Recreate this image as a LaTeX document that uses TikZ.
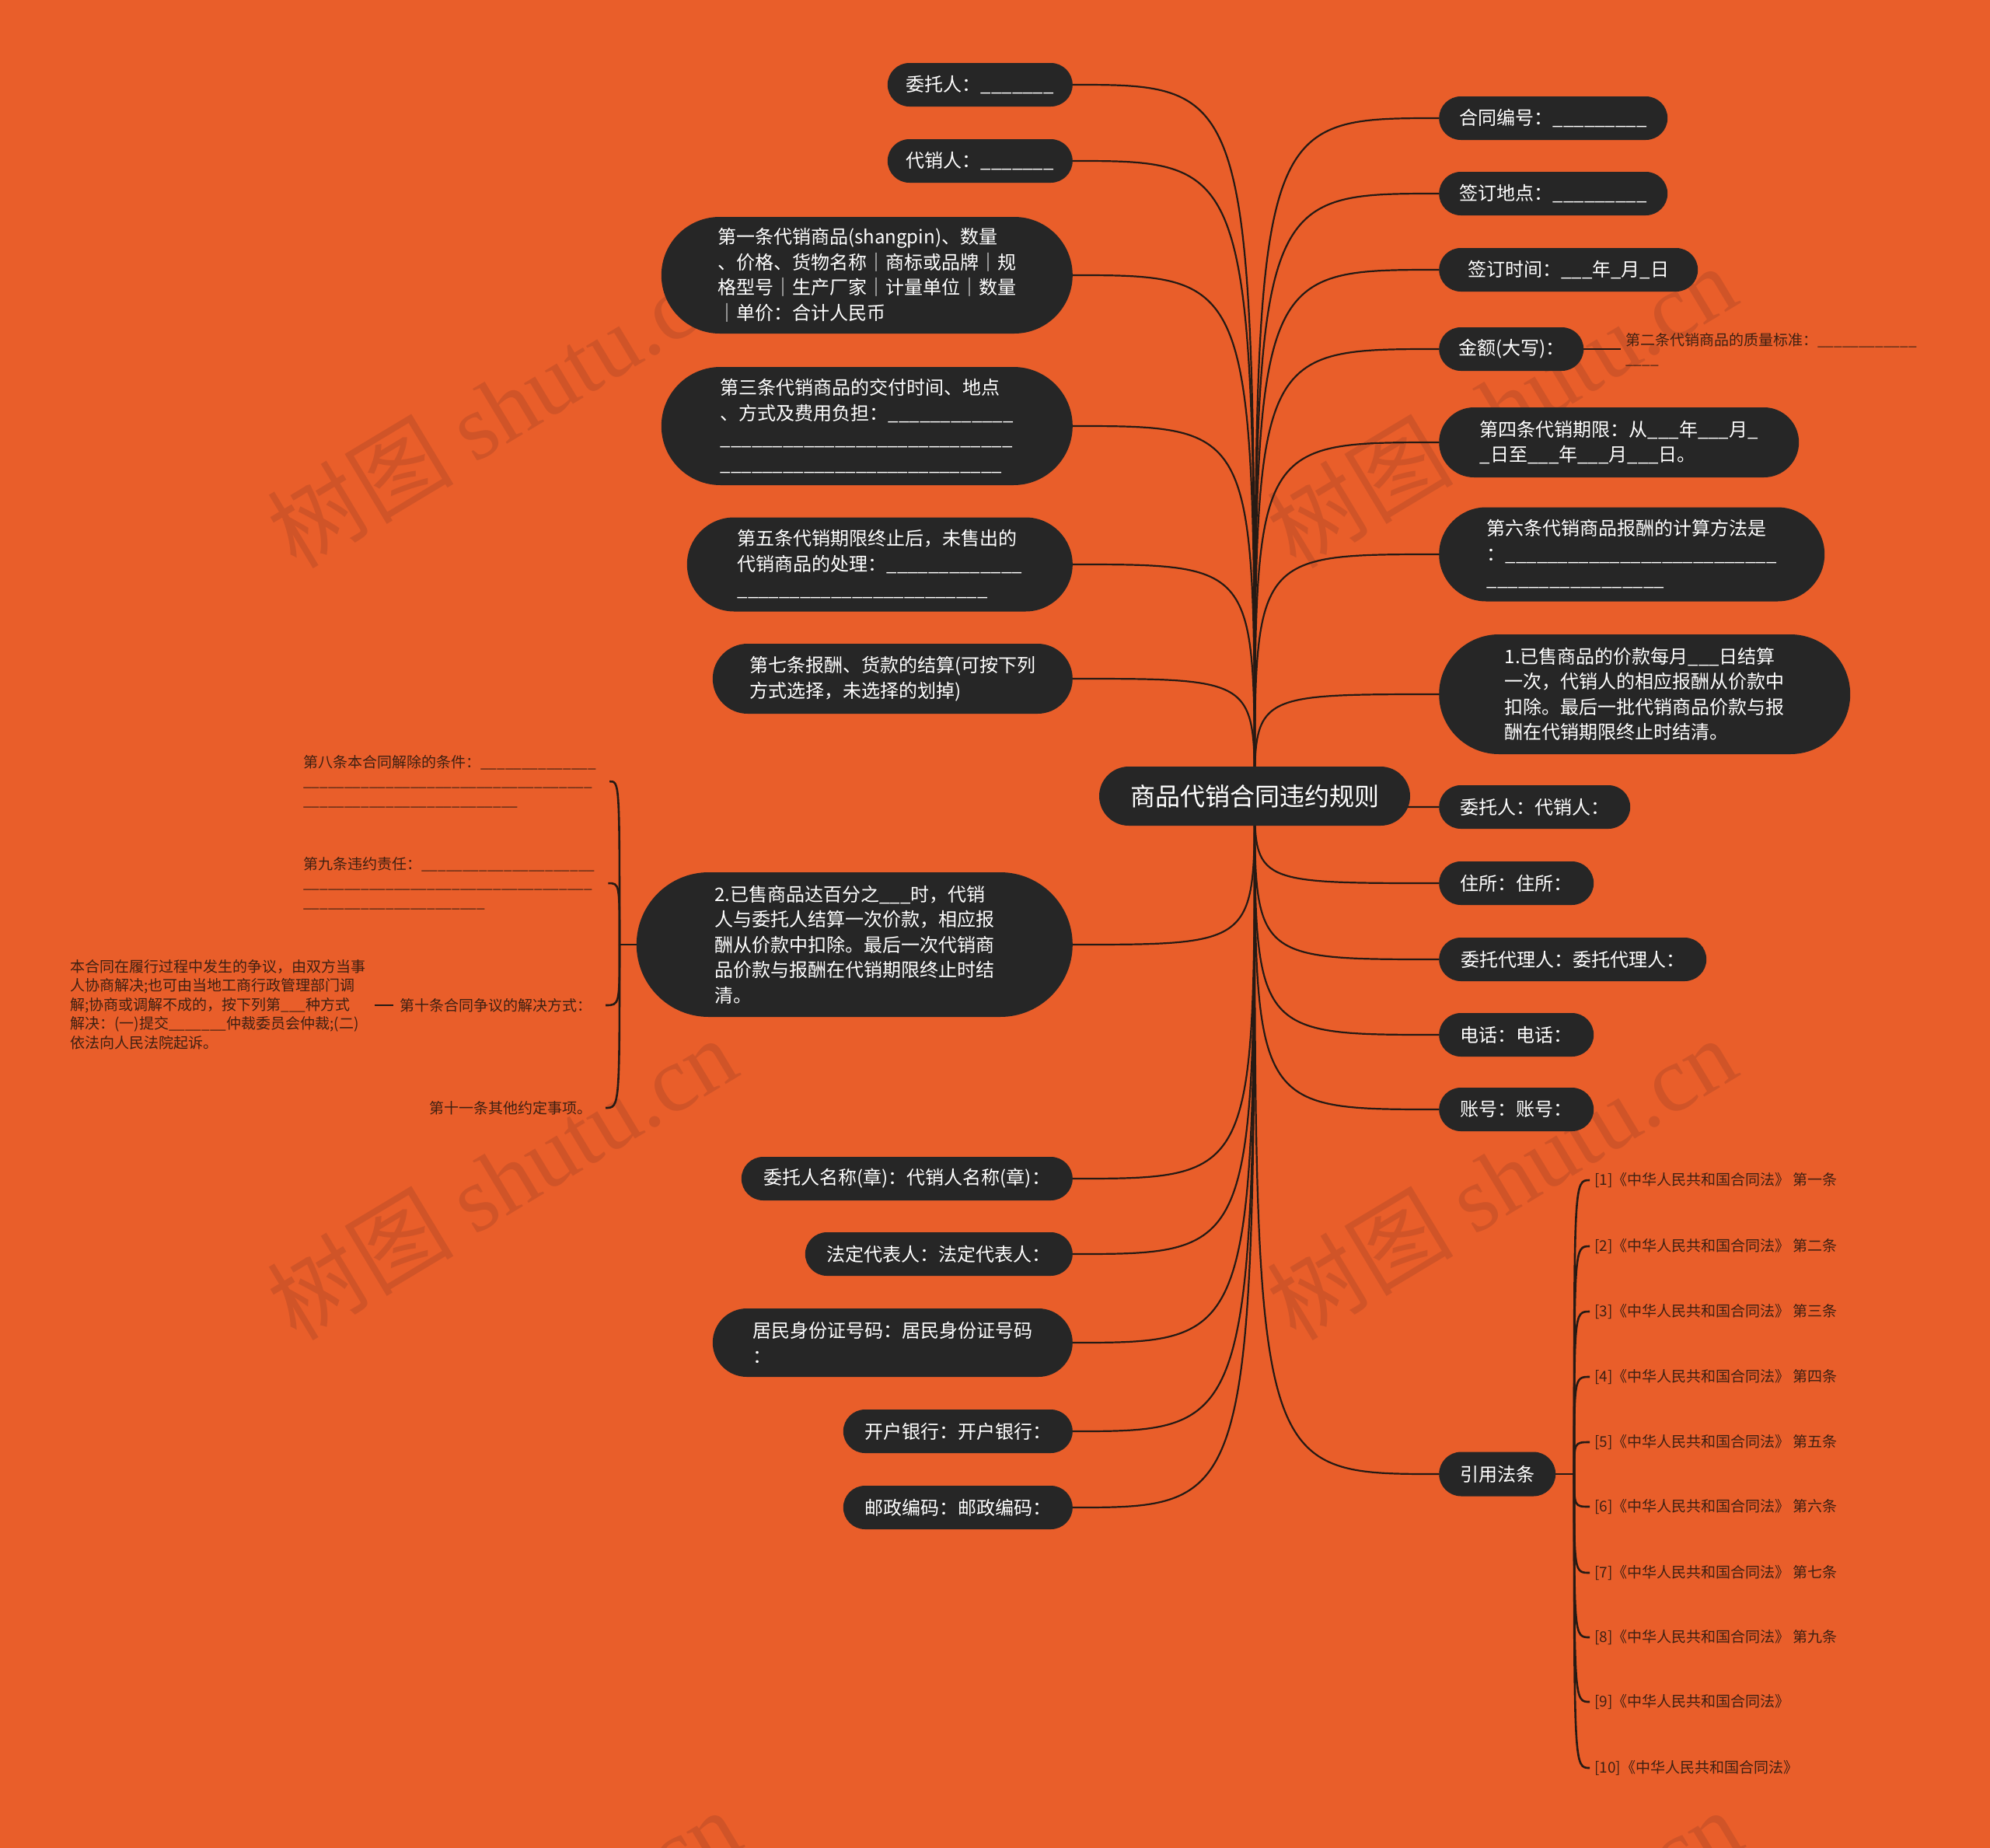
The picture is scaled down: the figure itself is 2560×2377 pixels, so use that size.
\documentclass[tikz,border=0pt]{standalone}
\usepackage{fontspec}
\setmainfont{Noto Sans CJK SC}
\newfontfamily\wmserif{Liberation Serif}
\usetikzlibrary{shapes.misc,calc}
\definecolor{bgc}{RGB}{233,94,42}
\definecolor{nodec}{RGB}{38,38,38}
\definecolor{linec}{RGB}{38,26,20}
\definecolor{smallc}{RGB}{62,32,18}
\definecolor{wmc}{RGB}{208,84,40}
\pgfdeclarelayer{back}
\pgfdeclarelayer{edges}
\pgfsetlayers{back,edges,main}
\newcount\blcnt
\newcommand\bl[1]{\blcnt=#1\relax\loop\ifnum\blcnt>0 \_\advance\blcnt by -1 \repeat}
\begin{document}
\begin{tikzpicture}[x=1pt,y=-1pt,
  topic/.style={rounded rectangle, fill=nodec, text=white, font=\fontsize{24}{32.5}\selectfont, align=left, inner xsep=2pt, inner ysep=0pt, minimum height=56pt},
  small/.style={text=smallc, font=\fontsize{19}{24.5}\selectfont, align=left, inner sep=0pt},
  conn/.style={draw=linec, line width=2.2pt},
  bracelink/.style={draw=linec, line width=2.6pt},
  wm/.style={text=wmc, rotate=31, font=\fontsize{120}{120}\selectfont, inner sep=0pt}
]
\useasboundingbox (0,0) rectangle (2560,2377);
\begin{pgfonlayer}{back}
\fill[bgc] (0,0) rectangle (2560,2377);
\begin{scope}
\clip (0,0) rectangle (2560,2377);
\node[wm] (w1) at (645,522) {树图 {\wmserif shutu.cn}};
\node[wm] (w2) at (1931,522) {树图 {\wmserif shutu.cn}};
\node[wm] (w3) at (645,1515) {树图 {\wmserif shutu.cn}};
\node[wm] (w4) at (1931,1515) {树图 {\wmserif shutu.cn}};
\node[wm] (w5) at (650,2508) {树图 {\wmserif shutu.cn}};
\node[wm] (w6) at (1938,2508) {树图 {\wmserif shutu.cn}};
\end{scope}
\end{pgfonlayer}

% central
\node[rounded rectangle, fill=nodec, text=white, font=\fontsize{32}{40}\selectfont, minimum width=400pt, minimum height=76pt, inner sep=0pt] (C) at (1614,1024) {商品代销合同违约规则};

% left topics
\node[topic, anchor=east, minimum width=242pt] (L1) at (1380,109) {委托人：\bl{7}};
\node[topic, anchor=east, minimum width=242pt] (L2) at (1380,207) {代销人：\bl{7}};
\node[topic, anchor=east, minimum width=533pt, minimum height=150pt] (L3) at (1380,354) {第一条代销商品(shangpin)、数量\\、价格、货物名称｜商标或品牌｜规\\格型号｜生产厂家｜计量单位｜数量\\｜单价：合计人民币};
\node[topic, anchor=east, minimum width=533pt, minimum height=152pt] (L4) at (1380,548) {第三条代销商品的交付时间、地点\\、方式及费用负担：\bl{12}\\\bl{28}\\\bl{27}};
\node[topic, anchor=east, minimum width=500pt, minimum height=121pt] (L5) at (1380,726) {第五条代销期限终止后，未售出的\\代销商品的处理：\bl{13}\\\bl{24}};
\node[topic, anchor=east, minimum width=467pt, minimum height=90pt] (L6) at (1380,873) {第七条报酬、货款的结算(可按下列\\方式选择，未选择的划掉)};
\node[topic, anchor=east, minimum width=565pt, minimum height=186pt] (L7) at (1380,1215) {2.已售商品达百分之\bl{3}时，代销\\人与委托人结算一次价款，相应报\\酬从价款中扣除。最后一次代销商\\品价款与报酬在代销期限终止时结\\清。};
\node[topic, anchor=east, minimum width=430pt] (L8) at (1380,1516) {委托人名称(章)：代销人名称(章)：};
\node[topic, anchor=east, minimum width=348pt] (L9) at (1380,1613) {法定代表人：法定代表人：};
\node[topic, anchor=east, minimum width=467pt, minimum height=88pt] (L10) at (1380,1727) {居民身份证号码：居民身份证号码\\：};
\node[topic, anchor=east, minimum width=299pt] (L11) at (1380,1841) {开户银行：开户银行：};
\node[topic, anchor=east, minimum width=299pt] (L12) at (1380,1939) {邮政编码：邮政编码：};

% right topics
\node[topic, anchor=west, minimum width=298pt] (R1) at (1851,152) {合同编号：\bl{9}};
\node[topic, anchor=west, minimum width=298pt] (R2) at (1851,249) {签订地点：\bl{9}};
\node[topic, anchor=west, minimum width=337pt] (R3) at (1851,347) {签订时间：\bl{3}年\bl{1}月\bl{1}日};
\node[topic, anchor=west, minimum width=190pt] (R4) at (1851,449) {金额(大写)：};
\node[topic, anchor=west, minimum width=467pt, minimum height=90pt] (R5) at (1851,569) {第四条代销期限：从\bl{3}年\bl{3}月\bl{1}\\\bl{1}日至\bl{3}年\bl{3}月\bl{3}日。};
\node[topic, anchor=west, minimum width=500pt, minimum height=121pt] (R6) at (1851,713) {第六条代销商品报酬的计算方法是\\：\bl{26}\\\bl{17}};
\node[topic, anchor=west, minimum width=533pt, minimum height=154pt] (R7) at (1851,893) {1.已售商品的价款每月\bl{3}日结算\\一次，代销人的相应报酬从价款中\\扣除。最后一批代销商品价款与报\\酬在代销期限终止时结清。};
\node[topic, anchor=west, minimum width=250pt] (R8) at (1851,1038) {委托人：代销人：};
\node[topic, anchor=west, minimum width=203pt] (R9) at (1851,1136) {住所：住所：};
\node[topic, anchor=west, minimum width=348pt] (R10) at (1851,1234) {委托代理人：委托代理人：};
\node[topic, anchor=west, minimum width=203pt] (R11) at (1851,1331) {电话：电话：};
\node[topic, anchor=west, minimum width=203pt] (R12) at (1851,1427) {账号：账号：};
\node[topic, anchor=west, minimum width=154pt, minimum height=57pt] (R13) at (1851,1896) {引用法条};

% small texts
\node[small, anchor=north west] (q2) at (2091,428) {第二条代销商品的质量标准：\bl{12}\\\bl{4}};
\node[small, anchor=north west] (k8) at (390,971) {第八条本合同解除的条件：\bl{14}\\\bl{35}\\\bl{26}};
\node[small, anchor=north west] (k9) at (390,1102) {第九条违约责任：\bl{21}\\\bl{35}\\\bl{22}};
\node[small, anchor=east] (k10) at (762,1293) {第十条合同争议的解决方式：};
\node[small, anchor=north west] (kb) at (90,1234) {本合同在履行过程中发生的争议，由双方当事\\人协商解决;也可由当地工商行政管理部门调\\解;协商或调解不成的，按下列第\bl{3}种方式\\解决：(一)提交\bl{7}仲裁委员会仲裁;(二)\\依法向人民法院起诉。};
\node[small, anchor=east] (k11) at (762,1425) {第十一条其他约定事项。};

\node[small, anchor=west] (c1) at (2051,1518) {[1]《中华人民共和国合同法》 第一条};
\node[small, anchor=west] (c2) at (2051,1603) {[2]《中华人民共和国合同法》 第二条};
\node[small, anchor=west] (c3) at (2051,1687) {[3]《中华人民共和国合同法》 第三条};
\node[small, anchor=west] (c4) at (2051,1771) {[4]《中华人民共和国合同法》 第四条};
\node[small, anchor=west] (c5) at (2051,1855) {[5]《中华人民共和国合同法》 第五条};
\node[small, anchor=west] (c6) at (2051,1938) {[6]《中华人民共和国合同法》 第六条};
\node[small, anchor=west] (c7) at (2051,2023) {[7]《中华人民共和国合同法》 第七条};
\node[small, anchor=west] (c8) at (2051,2106) {[8]《中华人民共和国合同法》 第九条};
\node[small, anchor=west] (c9) at (2051,2189) {[9]《中华人民共和国合同法》};
\node[small, anchor=west] (c10) at (2051,2274) {[10]《中华人民共和国合同法》};

\coordinate (H) at (797,1215);
\coordinate (H2) at (2025,1896);

\begin{pgfonlayer}{edges}
\foreach \i in {1,...,12} {
  \draw[conn] (L\i.east) .. controls (L\i.east -| C.center) .. (C.center);
}
\foreach \i in {1,...,13} {
  \draw[conn] (R\i.west) .. controls (R\i.west -| C.center) .. (C.center);
}
\draw[conn] (R4.east) -- ($(R4.east -| q2.west)+(-6,0)$);
\draw[bracelink] (L7.west) -- (H);
\foreach \k in {k8,k9,k10,k11} {
  \draw[bracelink] (H) .. controls (H |- \k.east) .. ($(\k.east)+(17,0)$);
}
\draw[bracelink] ($(k10.west)+(-9,0)$) -- ($(k10.west -| kb.east)+(12,0)$);
\draw[bracelink] (R13.east) -- (H2);
\foreach \k in {1,...,10} {
  \draw[bracelink] (H2) .. controls (H2 |- c\k.west) .. ($(c\k.west)+(-6,0)$);
}
\end{pgfonlayer}
\end{tikzpicture}
\end{document}
